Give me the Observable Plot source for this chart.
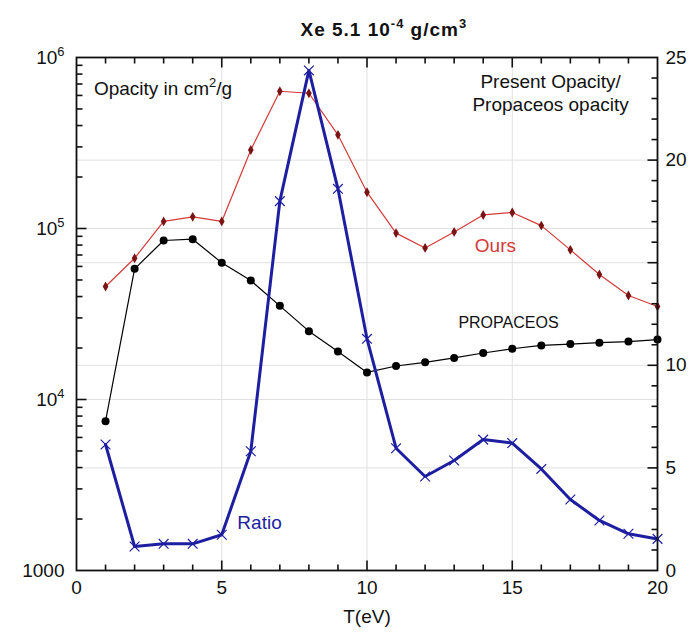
<!DOCTYPE html>
<html><head><meta charset="utf-8">
<script src="https://cdn.jsdelivr.net/npm/d3@7"></script>
<script src="https://cdn.jsdelivr.net/npm/@observablehq/plot@0.6"></script>
<style>body{margin:0;background:#fff;}</style>
</head><body><div id="chart"></div>
<script>
// Data
const tev = [1,2,3,4,5,6,7,8,9,10,11,12,13,14,15,16,17,18,19,20];
const ours = [45800,67000,110000,117000,110000,288000,635000,618000,353000,163000,94000,77000,95500,120000,124000,104000,75000,53800,40600,35000];
const propaceos = [7470,58100,85100,86600,63000,49600,35300,25100,19100,14400,15700,16500,17500,18700,19800,20700,21100,21500,21800,22400];
const ratio = [6.14,1.17,1.30,1.30,1.74,5.81,18.0,24.37,18.6,11.29,5.96,4.58,5.36,6.38,6.21,4.95,3.46,2.44,1.79,1.54];

const leftMajor = [1000,10000,100000,1000000];
const leftLabels = ["1000","10^{4}","10^{5}","10^{6}"];
const xMajor = [0,5,10,15,20];
const ratioMajor = [0,5,10,15,20,25];
const ratioMax = 25;

// map ratio (right linear axis 0..25) onto the left log scale (1e3..1e6)
const rToY = r => 1000 * Math.pow(1000, r / ratioMax);

const rows = tev.map((t, i) => ({t, ours: ours[i], prop: propaceos[i], ratio: ratio[i]}));
const leftMinor = [];
for (const dec of [1000, 10000, 100000]) for (let k = 2; k <= 9; k++) leftMinor.push(k * dec);
const leftMid = [10000, 100000];
const xMinor = d3.range(0, 21).filter(v => v % 5 !== 0);
const xMid = [5, 10, 15];
const rMinor = d3.range(0, 26).filter(v => v % 5 !== 0);
const rMid = [5, 10, 15, 20];

const blue = "#1e1ea0", red = "#d43a3a", darkRed = "#7a1414";

// inward tick symbols (length = r)
const tickSym = (dx, dy) => ({draw(ctx, size) { const r = Math.sqrt(size / Math.PI); ctx.moveTo(0, 0); ctx.lineTo(dx * r, dy * r); }});
const tl = tickSym(1, 0), tr = tickSym(-1, 0), tb = tickSym(0, -1), tt = tickSym(0, 1);
const tickOpts = {stroke: "#111", strokeWidth: 1.6};

const chart = Plot.plot({
  width: 698, height: 640,
  marginTop: 57, marginBottom: 70, marginLeft: 76, marginRight: 41,
  x: {domain: [0, 20]},
  y: {type: "log", domain: [1000, 1000000]},
  style: {fontFamily: "'Liberation Sans', Arial, sans-serif", fontSize: "19px", color: "#111", background: "#fff"},
  marks: [
    Plot.gridX(xMid, {stroke: "#e0e0e0", strokeOpacity: 1}),
    Plot.gridY([...leftMid, ...rMid.map(rToY)], {stroke: "#e0e0e0", strokeOpacity: 1}),
    Plot.line(rows, {x: "t", y: "ours", stroke: red, strokeWidth: 1.2}),
    Plot.dot(rows, {x: "t", y: "ours", symbol: "diamond", r: 3, fill: darkRed}),
    Plot.line(rows, {x: "t", y: "prop", stroke: "#000", strokeWidth: 1.2}),
    Plot.dot(rows, {x: "t", y: "prop", r: 4, fill: "#000"}),
    Plot.line(rows, {x: "t", y: d => rToY(d.ratio), stroke: blue, strokeWidth: 3}),
    Plot.dot(rows, {x: "t", y: d => rToY(d.ratio), symbol: "times", r: 4.5, stroke: blue, strokeWidth: 1.2}),
    // inward tick marks
    Plot.dot(leftMinor, {y: d => d, frameAnchor: "left", symbol: tl, r: 6, ...tickOpts}),
    Plot.dot(leftMid, {y: d => d, frameAnchor: "left", symbol: tl, r: 10, ...tickOpts}),
    Plot.dot(rMinor.map(rToY), {y: d => d, frameAnchor: "right", symbol: tr, r: 6, ...tickOpts}),
    Plot.dot(rMid.map(rToY), {y: d => d, frameAnchor: "right", symbol: tr, r: 10, ...tickOpts}),
    Plot.dot(xMinor, {x: d => d, frameAnchor: "bottom", symbol: tb, r: 6, ...tickOpts}),
    Plot.dot(xMid, {x: d => d, frameAnchor: "bottom", symbol: tb, r: 10, ...tickOpts}),
    Plot.dot(xMinor, {x: d => d, frameAnchor: "top", symbol: tt, r: 6, ...tickOpts}),
    Plot.dot(xMid, {x: d => d, frameAnchor: "top", symbol: tt, r: 10, ...tickOpts}),
    Plot.frame({stroke: "#111", strokeWidth: 1.8}),
    // tick labels
    Plot.axisY(leftMajor, {anchor: "left", tickSize: 0, tickPadding: 12, tickFormat: d => leftLabels[leftMajor.indexOf(d)], label: null}),
    Plot.axisY(ratioMajor.map(rToY), {anchor: "right", tickSize: 0, tickPadding: 8, tickFormat: d => String(Math.round(Math.log10(d / 1000) / 3 * ratioMax)), label: null}),
    Plot.axisX(xMajor, {anchor: "bottom", tickSize: 0, tickPadding: 10, label: null}),
    // titles
    Plot.text(["Xe 5.1 10^{-4} g/cm^{3}"], {frameAnchor: "top-left", dx: 224, dy: -35, textAnchor: "start", fontWeight: "bold", fontSize: 19, fill: "#111"}),
    Plot.text(["T(eV)"], {frameAnchor: "bottom", dy: 52, fontSize: 19, fill: "#111"}),
    // annotations
    Plot.text(["Opacity in cm^{2}/g"], {x: 0.6, y: 659000, textAnchor: "start", fontSize: 19, fill: "#111"}),
    Plot.text(["Present Opacity/\nPropaceos opacity"], {x: 16.32, y: 628000, textAnchor: "middle", fontSize: 19, lineHeight: 1.2, fill: "#111"}),
    Plot.text(["Ours"], {x: 14.42, y: 79600, fontSize: 19, fill: red}),
    Plot.text(["PROPACEOS"], {x: 14.87, y: 28200, fontSize: 16, fill: "#111"}),
    Plot.text(["Ratio"], {x: 6.3, y: rToY(2.34), fontSize: 19, fill: blue})
  ]
});
document.getElementById("chart").append(chart);

// render "^{...}" as superscripts
d3.select(chart).selectAll("text").each(function() {
  const t = this.textContent;
  if (!t.includes("^{")) return;
  const fs = parseFloat(getComputedStyle(this).fontSize) || 19;
  const sel = d3.select(this);
  sel.text(null);
  let raised = false;
  for (const p of t.split(/(\^\{[^}]*\})/)) {
    if (!p) continue;
    if (p.startsWith("^{")) {
      sel.append("tspan").attr("dy", -0.42 * fs).attr("font-size", 0.68 * fs).text(p.slice(2, -1));
      raised = true;
    } else {
      const ts = sel.append("tspan").text(p);
      if (raised) { ts.attr("dy", 0.42 * fs); raised = false; }
    }
  }
});
const title = Array.from(chart.querySelectorAll("text")).find(e => e.textContent.startsWith("Xe"));
if (title) title.setAttribute("letter-spacing", "1");
</script>
</body></html>
